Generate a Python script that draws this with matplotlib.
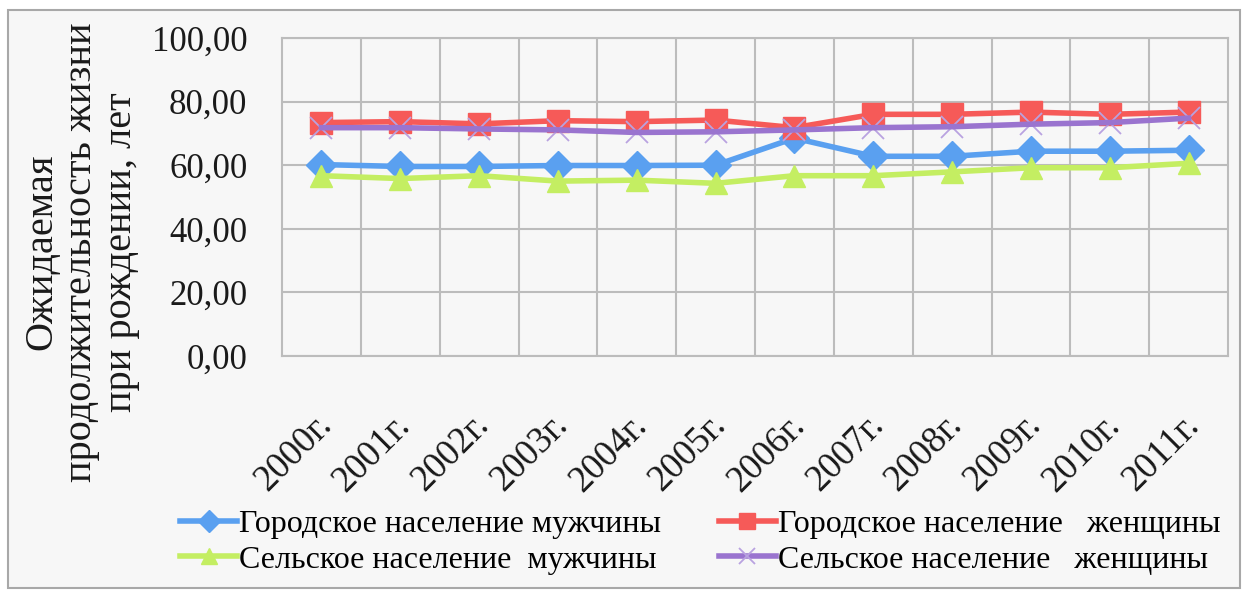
import matplotlib
matplotlib.use("Agg")
import matplotlib.pyplot as plt
from matplotlib.patches import Rectangle
from matplotlib.lines import Line2D
import matplotlib.transforms as mtransforms

# Ожидаемая продолжительность жизни при рождении по типу населения
years = ["2000г.", "2001г.", "2002г.", "2003г.", "2004г.", "2005г.",
         "2006г.", "2007г.", "2008г.", "2009г.", "2010г.", "2011г."]
urban_men = [60.2, 59.6, 59.6, 59.9, 59.9, 60.0, 68.5, 62.8, 62.8, 64.4, 64.4, 64.7]
urban_women = [73.4, 73.7, 73.0, 74.0, 73.7, 74.2, 71.8, 76.0, 76.0, 76.7, 76.0, 76.7]
rural_men = [56.7, 55.8, 56.7, 55.0, 55.3, 54.3, 56.7, 56.7, 57.9, 59.2, 59.2, 60.6]
rural_women = [71.8, 71.8, 71.4, 71.1, 70.3, 70.5, 71.1, 71.8, 72.1, 72.9, 73.4, 74.8]
series_labels = ["Городское население мужчины",
                 "Городское население   женщины",
                 "Сельское население  мужчины",
                 "Сельское население   женщины"]
y_ticks = [0, 20, 40, 60, 80, 100]

plt.rcParams["font.family"] = ["Liberation Serif", "DejaVu Serif"]

W, H, DPI = 1250, 590, 100
fig = plt.figure(figsize=(W / DPI, H / DPI), dpi=DPI, facecolor="white")
bg = "#f7f7f7"
grid_c = "#bcbcbc"
fig.patches.append(Rectangle((8 / W, 2 / H), 1232 / W, 578 / H, transform=fig.transFigure,
                             facecolor=bg, edgecolor="#a8a8a8", linewidth=1.5, zorder=-10))

ax = fig.add_axes([282 / W, 1 - 356 / H, 946 / W, 318 / H])
ax.set_facecolor(bg)
x = list(range(len(years)))

c_blue = "#5aa0f0"
c_red = "#f65a58"
c_green = "#c4ee62"
c_purple = "#9a74cf"
c_purple_m = "#b9a2e0"

ax.plot(x, urban_men, color=c_blue, lw=4, marker="D", ms=15, mec=c_blue, mfc=c_blue, zorder=3)
ax.plot(x, urban_women, color=c_red, lw=4, marker="s", ms=16, mec=c_red, mfc=c_red, zorder=3)
ax.plot(x, rural_men, color=c_green, lw=4, marker="^", ms=16, mec=c_green, mfc=c_green, zorder=3)
ax.plot(x, rural_women, color=c_purple, lw=4, zorder=4)
ax.plot(x, rural_women, ls="none", marker="x", ms=16, mew=1.3, color=c_purple_m, zorder=3)

ax.set_xlim(-0.5, len(years) - 0.5)
ax.set_ylim(0, 100)
ax.set_yticks(y_ticks)
ax.set_yticklabels([f"{v:.2f}".replace(".", ",") for v in y_ticks], fontsize=25)
ax.yaxis.grid(True, color=grid_c, lw=1.5)
for b in range(1, len(years)):
    ax.axvline(b - 0.5, color=grid_c, lw=1.5, zorder=0)
for s in ax.spines.values():
    s.set_color(grid_c)
    s.set_linewidth(1.5)
ax.tick_params(axis="y", length=0, pad=25, colors="#1a1a1a")
ax.tick_params(axis="x", length=0, pad=0, colors="#1a1a1a")

ax.set_xticks(x)
ax.set_xticklabels(years, fontsize=26.5, rotation=45, ha="right", va="center",
                   rotation_mode="anchor")
offset = mtransforms.ScaledTranslation(5 / DPI, -64 / DPI, fig.dpi_scale_trans)
for lbl in ax.get_xticklabels():
    lbl.set_transform(lbl.get_transform() + offset)

fig.text(82 / W, 1 - 252 / H, "Ожидаемая\nпродолжительность жизни\nпри рождении, лет",
         rotation=90, ha="center", va="center", multialignment="center",
         fontsize=29, linespacing=1.1, color="#1a1a1a")

handles = [
    Line2D([], [], color=c_blue, lw=4, marker="D", ms=11),
    Line2D([], [], color=c_red, lw=4, marker="s", ms=12),
    Line2D([], [], color=c_green, lw=4, marker="^", ms=12),
    Line2D([], [], color=c_purple, lw=4, marker="x", ms=12, mec=c_purple_m, mew=1.3),
]
order = [0, 2, 1, 3]
leg = fig.legend([handles[i] for i in order], [series_labels[i] for i in order],
                 ncol=2, loc="center", bbox_to_anchor=(700 / W, 1 - 542 / H),
                 frameon=False, fontsize=23, handlelength=1.8, handletextpad=0.05,
                 columnspacing=1.8, labelspacing=0.2)

fig.savefig("out.png", dpi=DPI, facecolor="white")
